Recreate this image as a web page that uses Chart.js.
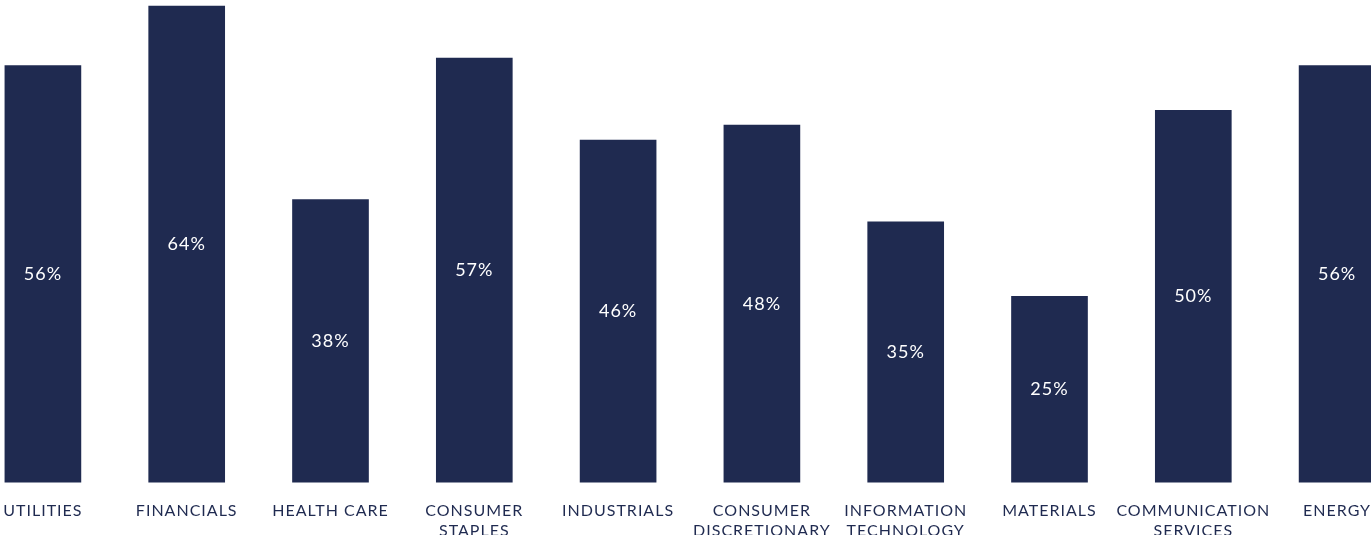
<!DOCTYPE html>
<html>
<head>
<meta charset="utf-8">
<script src="https://cdn.jsdelivr.net/npm/chart.js@4"></script>
<style>
    html, body { margin: 0; padding: 0; background: #ffffff; overflow: hidden; }
    #wrap { position: absolute; left: -29px; top: 0; width: 1438px; height: 559px; }
</style>
</head>
<body>
<div id="wrap"><canvas id="sector-chart"></canvas></div>
<script>
// Sector labels (multi-line where the picture wraps them)
const sectors = [
    'UTILITIES',
    'FINANCIALS',
    'HEALTH CARE',
    ['CONSUMER', 'STAPLES'],
    'INDUSTRIALS',
    ['CONSUMER', 'DISCRETIONARY'],
    ['INFORMATION', 'TECHNOLOGY'],
    'MATERIALS',
    ['COMMUNICATION', 'SERVICES'],
    'ENERGY'
];

// Share per sector, in percent
const shares = [56, 64, 38, 57, 46, 48, 35, 25, 50, 56];

const navy = '#1f2a50';

// Wider letter spacing, like the geometric font of the original
const spacing = {
    id: 'spacing',
    beforeDraw(chart) {
        chart.ctx.letterSpacing = '1px';
    }
};

// Draw the value in the middle of each bar
const centerLabels = {
    id: 'centerLabels',
    afterDatasetsDraw(chart) {
        const ctx = chart.ctx;
        const meta = chart.getDatasetMeta(0);
        ctx.save();
        ctx.fillStyle = '#ffffff';
        ctx.font = '18px Lato';
        ctx.letterSpacing = '1px';
        ctx.textAlign = 'center';
        ctx.textBaseline = 'middle';
        meta.data.forEach((bar, i) => {
            const mid = (bar.y + bar.base) / 2;
            ctx.fillText(shares[i] + '%', bar.x, mid);
        });
        ctx.restore();
    }
};

const ctx = document.getElementById('sector-chart').getContext('2d');

new Chart(ctx, {
    type: 'bar',
    data: {
        labels: sectors,
        datasets: [{
            data: shares,
            backgroundColor: navy,
            borderWidth: 0,
            barThickness: 76
        }]
    },
    options: {
        responsive: true,
        maintainAspectRatio: false,
        animation: false,
        layout: { padding: 0 },
        scales: {
            x: {
                grid: { display: false, drawTicks: false },
                border: { display: false },
                ticks: {
                    color: navy,
                    font: { family: 'Lato', size: 16 },
                    padding: 19,
                    maxRotation: 0,
                    autoSkip: false
                }
            },
            y: {
                display: false,
                min: 0,
                max: 64.8
            }
        },
        plugins: {
            legend: { display: false },
            tooltip: { enabled: false }
        }
    },
    plugins: [spacing, centerLabels]
});
</script>
</body>
</html>
